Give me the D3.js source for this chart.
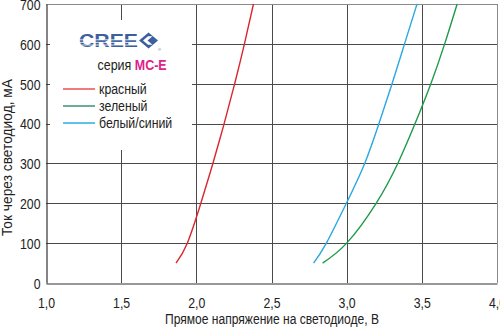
<!DOCTYPE html>
<html>
<head>
<meta charset="utf-8">
<script src="https://cdn.jsdelivr.net/npm/d3@7/dist/d3.min.js"></script>
<style>
  html, body { margin: 0; padding: 0; background: #fff; }
  svg { display: block; }
  text { font-family: "Liberation Sans", Arial, sans-serif; }
</style>
</head>
<body>
<svg id="chart" width="500" height="328"></svg>
<script>
// Forward voltage (V) vs. current (mA) for the MC-E colour variants
const redV   = [1.865, 1.94, 2.03, 2.11, 2.185, 2.255, 2.32, 2.38];
const redI   = [50, 100, 200, 300, 400, 500, 600, 700];
const greenV = [2.84, 3.0, 3.196, 3.34, 3.455, 3.56, 3.652, 3.735];
const greenI = [50, 100, 200, 300, 400, 500, 600, 700];
const blueV  = [2.78, 2.865, 2.998, 3.12, 3.215, 3.302, 3.385, 3.468];
const blueI  = [50, 100, 200, 300, 400, 500, 600, 700];

const xTicks = [1.0, 1.5, 2.0, 2.5, 3.0, 3.5, 4.0];
const yTicks = [0, 100, 200, 300, 400, 500, 600, 700];

const seriesNames  = ["красный", "зеленый", "белый/синий"];
const seriesColors = ["#d9262f", "#1f9a4b", "#2aa8e0"];
const legendColors = ["#e8414a", "#2f8a6c", "#1ea6e6"];

const xTitle = "Прямое напряжение на светодиоде, В";
const yTitle = "Ток через светодиод, мА";

const svg = d3.select("#chart");
const x = d3.scaleLinear().domain([1.0, 4.0]).range([46, 497]);
const y = d3.scaleLinear().domain([0, 700]).range([283, 4]);

const fmt = d => d.toFixed(1).replace(".", ",");

// narrow the type horizontally around each text's own anchor point
function condense(sel, k) {
  sel.each(function () {
    const t = d3.select(this);
    const tx = +t.attr("x") || 0, ty = +t.attr("y") || 0;
    const prev = t.attr("transform") || "";
    t.attr("x", 0).attr("y", 0)
     .attr("transform", `${prev} translate(${tx},${ty}) scale(${k},1)`);
  });
}

// grid
const grid = svg.append("g");
grid.selectAll("line.v").data(xTicks.slice(1)).join("line")
  .attr("x1", d => Math.round(x(d)) + 0.5).attr("x2", d => Math.round(x(d)) + 0.5)
  .attr("y1", y(700)).attr("y2", y(0))
  .attr("stroke", d => d === 4.0 ? "#8a8a8a" : "#4a4a4a").attr("stroke-width", 1);
grid.selectAll("line.h").data(yTicks.slice(1)).join("line")
  .attr("x1", x(1.0)).attr("x2", x(4.0))
  .attr("y1", d => Math.round(y(d)) + 0.5).attr("y2", d => Math.round(y(d)) + 0.5)
  .attr("stroke", d => d === 700 ? "#8a8a8a" : "#4a4a4a").attr("stroke-width", 1);

// axes
const xAxis = svg.append("g").attr("transform", `translate(0,${Math.round(y(0)) + 0.5})`)
  .call(d3.axisBottom(x).tickValues(xTicks).tickFormat(fmt).tickSize(0).tickPadding(14));
const yAxis = svg.append("g").attr("transform", `translate(${Math.round(x(1.0)) + 0.5},0)`)
  .call(d3.axisLeft(y).tickValues(yTicks).tickSize(0).tickPadding(6));
[xAxis, yAxis].forEach(a => {
  a.select(".domain").attr("stroke", "#333").attr("stroke-width", 1.2);
  a.selectAll("text").attr("font-size", 15).attr("fill", "#222")
    .attr("font-family", "'Liberation Sans', Arial, sans-serif");
});
xAxis.selectAll("text").attr("dy", "0.71em");
yAxis.selectAll("text").attr("dy", "0.36em");
condense(xAxis.selectAll("text"), 0.82);
condense(yAxis.selectAll("text"), 0.82);

// axis titles
svg.append("text").attr("x", 272).attr("y", 324).attr("text-anchor", "middle")
  .attr("font-size", 14).attr("fill", "#222")
  .attr("textLength", 214).attr("lengthAdjust", "spacingAndGlyphs").text(xTitle);
svg.append("text").attr("transform", "translate(11.5,157.5) rotate(-90)").attr("text-anchor", "middle")
  .attr("font-size", 14).attr("fill", "#222")
  .attr("textLength", 157).attr("lengthAdjust", "spacingAndGlyphs").text(yTitle);

// curves
const line = d3.line().x(d => x(d[0])).y(d => y(d[1])).curve(d3.curveNatural);
const series = [
  d3.zip(redV, redI),
  d3.zip(greenV, greenI),
  d3.zip(blueV, blueI)
];
svg.append("g").selectAll("path").data(series).join("path")
  .attr("d", line).attr("fill", "none")
  .attr("stroke", (d, i) => seriesColors[i]).attr("stroke-width", 1.4);

// legend panel
const leg = svg.append("g");
leg.append("rect").attr("x", 50).attr("y", 20).attr("width", 142).attr("height", 130).attr("fill", "#fff");

// logo
const logo = leg.append("g");
logo.append("text").attr("x", 79).attr("y", 47).attr("font-size", 19).attr("font-weight", "bold")
  .attr("font-family", "'DejaVu Sans', sans-serif").attr("fill", "#3d5f9e")
  .attr("textLength", 59).attr("lengthAdjust", "spacingAndGlyphs").text("CREE");
[39.8, 42.4, 45.0].forEach(yy => {
  logo.append("line").attr("x1", 78).attr("x2", 139).attr("y1", yy).attr("y2", yy)
    .attr("stroke", "#fff").attr("stroke-width", 0.8);
});
logo.append("path").attr("d", "M139,40.5 L148.5,32.5 L158,40.5 L148.5,48.5 Z").attr("fill", "#3d5f9e");
logo.append("path").attr("d", "M143,40.5 L148,36.3 L152.5,36.3 L147.5,40.5 L152.5,44.7 L148,44.7 Z").attr("fill", "#fff");
logo.append("text").attr("x", 158).attr("y", 51).attr("font-size", 4).attr("fill", "#3d5f9e").text("®");

const sub = leg.append("text").attr("x", 97.5).attr("y", 70).attr("font-size", 14.5).attr("fill", "#222");
sub.append("tspan").text("серия ");
sub.append("tspan").attr("font-weight", "bold").attr("fill", "#e0218a").text("МС-Е");
condense(sub, 0.86);

const legY = [89, 106, 123];
seriesNames.forEach((name, i) => {
  leg.append("line").attr("x1", 63).attr("x2", 95).attr("y1", legY[i]).attr("y2", legY[i])
    .attr("stroke", legendColors[i]).attr("stroke-width", 1.4);
  leg.append("text").attr("x", 99).attr("y", legY[i]).attr("dy", "0.36em")
    .attr("font-size", 14.5).attr("fill", "#222").text(name)
    .call(condense, 0.85);
});
</script>
</body>
</html>
